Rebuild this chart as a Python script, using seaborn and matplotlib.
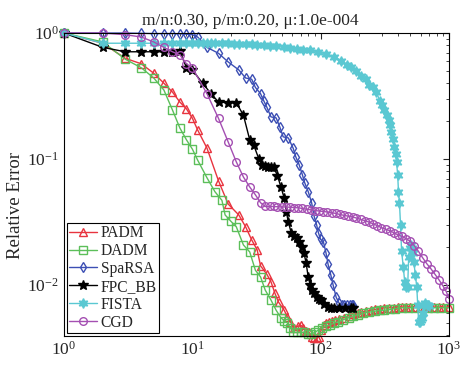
import matplotlib
matplotlib.use('Agg')
import matplotlib.pyplot as plt
import seaborn as sns
from matplotlib.ticker import NullFormatter

# Relative error vs iteration
padm_it = [1, 2, 3, 4, 5, 6, 7, 8, 9, 10,
           11, 13, 16, 19, 23, 26, 29, 32, 34, 38,
           41, 44, 47, 52, 55, 58, 62, 66, 70, 73,
           77, 81, 85, 89, 93, 97, 101, 106, 110, 116,
           122, 130, 140, 153, 165, 180, 195, 208, 225, 245,
           265, 290, 314, 340, 370, 400, 428, 460, 500, 540,
           590, 640, 700, 760, 830, 900, 1000]
padm_err = [1.0, 0.83, 0.63, 0.57, 0.48, 0.40, 0.34, 0.283, 0.25, 0.211,
            0.17, 0.122, 0.067, 0.044, 0.036, 0.029, 0.0228, 0.019, 0.0142, 0.0122,
            0.0106, 0.0086, 0.0073, 0.0063, 0.0056, 0.0051, 0.0046, 0.0047, 0.0048, 0.0046,
            0.0043, 0.0042, 0.0039, 0.0038, 0.0038, 0.0039, 0.0044, 0.0048, 0.0050, 0.0051,
            0.0052, 0.0053, 0.0054, 0.0055, 0.0057, 0.0059, 0.0060, 0.0061, 0.0062, 0.0063,
            0.0064, 0.0065, 0.0066, 0.0066, 0.0066, 0.0067, 0.0067, 0.0067, 0.0067, 0.0067,
            0.0067, 0.0067, 0.0067, 0.0067, 0.0067, 0.0067, 0.0067]

dadm_it = [1, 2, 3, 4, 5, 6, 7, 8, 9, 10,
           11, 13, 15, 17, 18, 20, 22, 25, 28, 31,
           34, 37, 41, 45, 49, 52, 55, 58, 61, 65,
           70, 74, 79, 84, 90, 96, 103, 110, 118, 127,
           137, 150, 165, 180, 196, 215, 240, 265, 290, 314,
           345, 380, 428, 480, 540, 600, 680, 760, 850, 1000]
dadm_err = [1.0, 0.85, 0.62, 0.53, 0.44, 0.353, 0.245, 0.176, 0.142, 0.12,
            0.098, 0.071, 0.055, 0.047, 0.036, 0.032, 0.029, 0.0208, 0.0183, 0.0131,
            0.0116, 0.0091, 0.0076, 0.0063, 0.0055, 0.0052, 0.0050, 0.0046, 0.0042, 0.0042,
            0.0042, 0.0042, 0.0041, 0.0041, 0.0042, 0.0044, 0.0046, 0.0047, 0.0048, 0.0050,
            0.0051, 0.0053, 0.0055, 0.0057, 0.0058, 0.0060, 0.0061, 0.0062, 0.0063, 0.0063,
            0.0064, 0.0065, 0.0066, 0.0066, 0.0066, 0.0066, 0.0066, 0.0066, 0.0066, 0.0066]

sparsa_it = [1, 2, 3, 4, 5, 6, 7, 8, 9, 10,
             11, 13, 16, 19, 23, 26, 29, 31, 34, 36,
             38, 41, 45, 48, 51, 56, 61, 64, 68, 72,
             75, 80, 85, 89, 93, 96, 100, 105, 110, 114,
             120, 125, 132, 139, 146, 153, 160, 168, 175, 180]
sparsa_err = [1.0, 1.0, 1.0, 0.995, 0.99, 0.99, 0.99, 0.985, 0.98, 0.97,
              0.93, 0.77, 0.69, 0.59, 0.51, 0.44, 0.43, 0.37, 0.33, 0.29,
              0.259, 0.216, 0.212, 0.18, 0.150, 0.147, 0.122, 0.104, 0.090, 0.075,
              0.065, 0.055, 0.045, 0.035, 0.030, 0.026, 0.023, 0.022, 0.018, 0.0147,
              0.012, 0.010, 0.0080, 0.0072, 0.0070, 0.0069, 0.0069, 0.0069, 0.0069, 0.0069]

fpc_it = [1, 2, 3, 4, 5, 6, 7, 8, 9, 10,
          12, 14, 16, 19, 22, 25, 28, 30, 33, 35,
          37, 39, 41, 43, 46, 49, 52, 54, 56, 59,
          62, 65, 68, 71, 74, 77, 80, 83, 86, 89,
          93, 97, 101, 107, 114, 121, 128, 140, 155, 173, 180]
fpc_err = [1.0, 0.77, 0.71, 0.71, 0.71, 0.71, 0.71, 0.72, 0.53, 0.51,
           0.40, 0.33, 0.283, 0.28, 0.28, 0.223, 0.142, 0.13, 0.10, 0.09,
           0.088, 0.086, 0.086, 0.086, 0.074, 0.060, 0.049, 0.038, 0.0316, 0.0259,
           0.0245, 0.0236, 0.022, 0.020, 0.018, 0.015, 0.0115, 0.0100, 0.0092, 0.0086,
           0.0081, 0.0078, 0.0076, 0.0071, 0.0067, 0.0066, 0.0066, 0.0066, 0.0066, 0.0066, 0.0066]

fista_it = [1, 2, 3, 4, 5, 6, 7, 8, 9, 10,
            11, 12, 13, 14, 15, 17, 19, 21, 23, 26,
            29, 32, 36, 40, 45, 52, 58, 65, 73, 82,
            96, 110, 128, 145, 160, 173, 190, 208, 225, 240,
            256, 272, 288, 300, 314, 326, 338, 347, 356, 366,
            376, 383, 390, 398, 404, 411, 419, 427, 440, 452,
            466, 476, 485, 495, 504, 514, 523, 532, 547, 561,
            570, 580, 590, 600, 612, 625, 638, 652, 668, 685, 698]
fista_err = [1.0, 0.83, 0.83, 0.83, 0.83, 0.83, 0.83, 0.83, 0.83, 0.83,
             0.83, 0.83, 0.83, 0.83, 0.83, 0.83, 0.83, 0.825, 0.825, 0.82,
             0.82, 0.81, 0.80, 0.79, 0.785, 0.77, 0.76, 0.75, 0.74, 0.73,
             0.71, 0.68, 0.645, 0.60, 0.56, 0.54, 0.50, 0.46, 0.43, 0.39,
             0.37, 0.34, 0.29, 0.27, 0.245, 0.225, 0.204, 0.185, 0.164, 0.145,
             0.124, 0.110, 0.095, 0.075, 0.055, 0.045, 0.030, 0.0186, 0.014, 0.0105,
             0.0096, 0.0096, 0.0167, 0.0197, 0.0207, 0.0197, 0.018, 0.0152, 0.012, 0.0096,
             0.007, 0.0051, 0.0051, 0.0053, 0.0055, 0.006, 0.0069, 0.0072, 0.0069, 0.0069, 0.0068]

cgd_it = [1, 2, 3, 4, 5, 6, 7, 8, 9, 10,
          13, 16, 19, 22, 25, 28, 31, 34, 37,
          40, 43, 46, 50, 54, 58, 62, 67, 72, 78,
          84, 90, 97, 105, 113, 122, 131, 141, 152, 164,
          177, 190, 205, 221, 238, 256, 276, 297, 320, 345,
          371, 400, 431, 464, 500, 537, 578, 622, 670, 721,
          776, 835, 899, 950, 1000]
cgd_err = [1.0, 1.0, 0.97, 0.93, 0.85, 0.77, 0.71, 0.67, 0.57, 0.53,
           0.33, 0.21, 0.137, 0.095, 0.072, 0.060, 0.052, 0.045, 0.042,
           0.042, 0.042, 0.0418, 0.0417, 0.0416, 0.0414, 0.0412, 0.041, 0.0405, 0.040,
           0.0395, 0.039, 0.0387, 0.0383, 0.038, 0.0375, 0.037, 0.0363, 0.0357, 0.0352,
           0.0347, 0.034, 0.0332, 0.0324, 0.0316, 0.0306, 0.0296, 0.0285, 0.0278, 0.027,
           0.026, 0.025, 0.0243, 0.0233, 0.0222, 0.0205, 0.0185, 0.0165, 0.0148, 0.0135,
           0.0122, 0.011, 0.0098, 0.0089, 0.0078]

series = [
    ('PADM', padm_it, padm_err, '#e8343f', '^'),
    ('DADM', dadm_it, dadm_err, '#5cbf5a', 's'),
    ('SpaRSA', sparsa_it, sparsa_err, '#3c4fb4', 'd'),
    ('FPC_BB', fpc_it, fpc_err, '#000000', '*'),
    ('FISTA', fista_it, fista_err, '#5ac8d2', (6, 1, 0)),
    ('CGD', cgd_it, cgd_err, '#a44fb2', 'o'),
]

sns.set_style('white')
plt.rcParams['font.family'] = ['Liberation Serif', 'DejaVu Serif']
plt.rcParams['mathtext.fontset'] = 'stix'

fig = plt.figure(figsize=(4.72, 3.65), dpi=100)
ax = fig.add_axes([0.1356, 0.0795, 0.8157, 0.830])

for name, it, err, col, mk in series:
    filled = name in ('FPC_BB', 'FISTA')
    sns.lineplot(x=it, y=err, ax=ax, label=name, color=col, marker=mk,
                 markersize=7 if filled else 5.5, linewidth=1.0,
                 markerfacecolor=col if filled else 'none',
                 markeredgecolor=col, markeredgewidth=1.0,
                 estimator=None, sort=False, clip_on=False)

ax.set_xscale('log')
ax.set_yscale('log')
ax.set_xlim(1, 1000)
ax.set_ylim(0.00394, 1.0)
ax.yaxis.set_minor_formatter(NullFormatter())
ax.xaxis.set_minor_formatter(NullFormatter())
ax.tick_params(which='both', direction='in', top=True, right=True, labelsize=12.5)
ax.tick_params(which='major', length=4)
ax.tick_params(which='minor', length=2)
for s in ax.spines.values():
    s.set_color('black')
    s.set_linewidth(0.8)

ax.set_title('m/n:0.30, p/m:0.20, \u03bc:1.0e-004', fontsize=12.5, pad=6, x=0.483)
ax.set_ylabel('Relative Error', fontsize=13.5)
ax.yaxis.set_label_coords(-0.105, 0.43)
ax.set_xlabel('')

leg = ax.legend(loc='lower left', fontsize=11.2, labelspacing=0.12, handlelength=1.8,
                handletextpad=0.2, borderpad=0.15, borderaxespad=0.2, fancybox=False,
                framealpha=1.0, edgecolor='black')
leg.get_frame().set_linewidth(0.8)

fig.savefig('out.png', dpi=100)
